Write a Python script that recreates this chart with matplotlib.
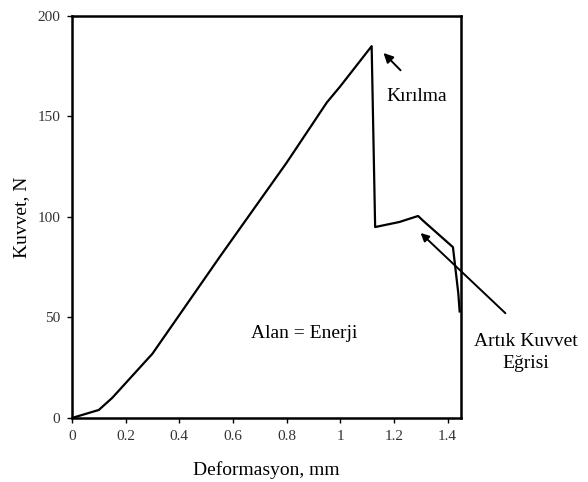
import matplotlib.pyplot as plt

plt.rcParams["font.family"] = ["Liberation Serif", "DejaVu Serif"]

# kuvvet-deformasyon egrisi (okunan degerler)
deformasyon = [0.0, 0.1, 0.15, 0.3, 0.55, 0.8, 0.95, 1.0, 1.117,
               1.13, 1.22, 1.29, 1.31, 1.42, 1.44, 1.445]
kuvvet = [0, 4, 10, 32, 80, 127, 157, 165, 185,
          95, 97.5, 100.5, 98, 85, 62, 53]

x_ticks = [0, 0.2, 0.4, 0.6, 0.8, 1, 1.2, 1.4]
x_labels = ["0", "0.2", "0.4", "0.6", "0.8", "1", "1.2", "1.4"]
y_ticks = [0, 50, 100, 150, 200]


def plot_data():
    fig = plt.figure(figsize=(5.88, 4.82), dpi=100)
    ax = fig.add_axes([0.1224, 0.1328, 0.6616, 0.834])
    ax.plot(deformasyon, kuvvet, color="black", lw=1.6)
    ax.set_xlim(0, 1.45)
    ax.set_ylim(0, 200)
    ax.set_xticks(x_ticks)
    ax.set_xticklabels(x_labels)
    ax.set_yticks(y_ticks)
    ax.tick_params(direction="out", length=3.5, width=1, labelsize=11,
                   labelcolor="#333333", pad=5)
    for s in ax.spines.values():
        s.set_linewidth(1.8)

    ax.set_xlabel("Deformasyon, mm", fontsize=14, labelpad=13)
    ax.set_ylabel("Kuvvet, N", fontsize=14, labelpad=5)

    ax.text(0.864, 42, "Alan = Enerji", fontsize=14, ha="center", va="center")
    ax.text(1.285, 160, "Kırılma", fontsize=14, ha="center", va="center")
    ax.annotate("", xy=(1.154, 182.6), xytext=(1.232, 172),
                arrowprops=dict(arrowstyle="-|>", color="black", lw=1.4,
                                mutation_scale=14))
    ax.annotate("", xy=(1.292, 93), xytext=(1.623, 51.2),
                arrowprops=dict(arrowstyle="-|>", color="black", lw=1.4,
                                mutation_scale=12),
                annotation_clip=False)
    ax.text(1.69, 32.5, "Artık Kuvvet\nEğrisi", fontsize=14, ha="center",
            va="center", linespacing=1.35, clip_on=False)

    fig.savefig("out.png", dpi=100)


if __name__ == "__main__":
    plot_data()
